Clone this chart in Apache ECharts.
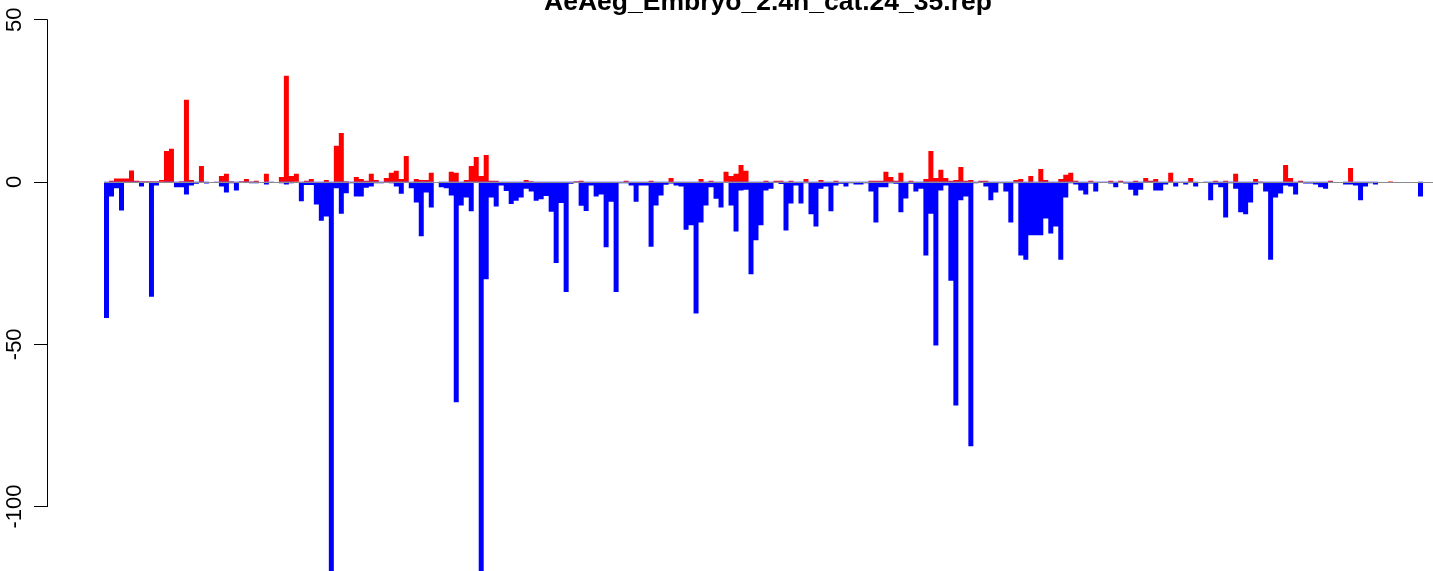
<!DOCTYPE html>
<html><head><meta charset="utf-8">
<script src="https://cdn.jsdelivr.net/npm/echarts@6/dist/echarts.min.js"></script>
<style>html,body{margin:0;padding:0;background:#fff}#c{width:1433px;height:571px}</style>
</head><body><div id="c"></div>
<script>
const chartTitle = 'AeAeg_Embryo_2.4h_cat.24_35.rep';
const yTicks = [-100, -50, 0, 50];

// red (positive) bar heights, one per position
const positive = [
0,0.3,1,1,1,3.5,0.3,0.2,0.2,0.2, 0.2,0.6,9.5,10.2,0,0.2,25.3,0.6,0,4.9,
0,0,0,1.8,2.5,0.2,0,0.2,0.9,0.1, 0.3,0,2.5,0,0,1.5,32.7,1.8,2.5,0,
0.3,0.9,0,0,0.6,0,11.1,15.1,0.2,0, 1.5,0.9,0.3,2.5,0.6,0,1.2,2.8,3.4,0.9,
8,0,0.9,0.6,0.6,2.8,0,0,0,3.1, 2.8,0,0.6,4.9,7.7,1.8,8.3,0.3,0.3,0,
0,0,0,0,0.6,0.2,0,0,0,0, 0,0,0,0,0.2,0.3,0,0,0,0,
0,0,0,0,0.3,0,0,0,0,0.3, 0,0,0,1.2,0,0,0,0,0,0.9,
0,0.3,0,0,3.1,1.8,2.5,5.2,3.4,0, 0,0,0.3,0,0.3,0.3,0,0.3,0,0,
0.9,0,0,0.6,0,0,0.3,0,0,0, 0,0,0,0.3,0.3,0.3,3.1,1.5,0.3,2.8,
0,0.3,0,0,0.9,9.5,1.2,3.7,1.2,0.3, 0.6,4.6,0.3,0.6,0,0.3,0.3,0,0,0,
0,0,0.6,0.9,0,1.8,0,4,0.6,0, 0,0.9,2.2,2.8,0.3,0,0,0.3,0,0,
0,0.3,0,0.3,0,0,0.3,0,1.2,0.3, 0.9,0,0,2.8,0,0,0,1.2,0,0,
0,0,0.3,0,0.3,0,2.5,0,0,0, 0.9,0.1,0,0,0,0,5.2,1.2,0,0.3,
0,0,0,0,0,0.3,0,0,0,4.3, 0,0,0,0,0,0,0,0.2,0,0,
0,0,0,0,0,0
];

// blue (negative) bar heights, one per position
const negative = [
-42,-4.5,-2,-8.8,-0.3,-0.2,-0.3,-1.4,-0.1,-35.4, -1.1,0,-0.3,-0.3,-1.7,-1.7,-3.9,-1.1,-0.6,-0.3,
-0.5,0,-0.3,-1.4,-3.3,-0.4,-2.7,-0.2,-0.3,-0.4, -0.4,0,-0.8,-0.2,0,-0.4,-0.8,-0.4,0,-6,
-1,-1,-7,-12,-10.7,-125,-2,-9.8,-3.5,-0.4, -4.5,-4.5,-1.8,-1.4,-0.4,-0.4,-0.2,-0.4,-1.4,-3.7,
-0.3,-2,-6.4,-16.8,-3.3,-7.9,0,-1.7,-2,-4.2, -68,-7.3,-4.8,-9.1,-0.3,-125,-30,-4.8,-7.6,-1.1,
-2.8,-6.8,-5.8,-4.8,-2.1,-3,-5.8,-5.4,-4.4,-9.2, -25,-6.5,-34,-0.6,-0.3,-7.4,-9,-1.1,-4.5,-3.9,
-20.2,-6.1,-34,-0.4,-0.4,-1.1,-6.1,-1.1,-1.1,-20, -7.3,-4.2,-0.9,-0.5,-1.1,-1.4,-14.8,-13.4,-40.6,-12.5,
-7.3,-1.7,-5.2,-7.9,0,-7.3,-15.3,-2.7,-2.4,-28.5, -18,-13.4,-2.7,-2.1,-0.2,-0.7,-15,-6.7,-1.1,-6.7,
-0.4,-10,-13.8,-2.1,-1.4,-9.1,-1.1,-0.6,-1.4,-0.4, -0.8,-0.8,-0.4,-3,-12.5,-1.7,-1.7,-0.4,-0.6,-9.4,
-5.1,-0.6,-3,-2.1,-22.7,-9.8,-50.5,-2.7,-1.1,-30.5, -69,-5.7,-4.5,-81.5,-0.4,-0.2,-1.4,-5.7,-3.3,-0.4,
-3,-12.5,-0.4,-22.7,-24,-16.5,-16.5,-16.5,-11.3,-15.9, -13.8,-24,-4.8,-0.4,-0.8,-2.7,-3.9,-0.5,-3,-0.2,
-0.2,-0.5,-1.7,-0.2,-0.5,-2.4,-4.2,-2.4,-0.2,-0.2, -2.7,-2.7,-0.8,-0.2,-1.4,-0.2,-0.8,-0.2,-1.4,0,
-0.2,-5.7,-0.8,-1.7,-11,-0.4,-2.1,-9.4,-10,-6.4, -0.8,-0.4,-3,-24,-4.8,-3.6,-1.1,-1.4,-3.9,-0.2,
-0.5,-0.5,-0.8,-1.7,-2.1,-0.2,0,0,-0.8,-0.8, -1.1,-5.7,-1.4,-0.4,-0.8,0,0,0,0,0,
0,0,0,-4.5,0,0
];

const categories = positive.map((_, i) => String(i + 1));

const FONT = '"Liberation Sans", Arial, Helvetica, sans-serif';
const chart = echarts.init(document.getElementById('c'), null, {renderer: 'canvas'});
chart.setOption({
  animation: false,
  backgroundColor: '#ffffff',
  graphic: [{
    type: 'text', x: 768, y: 3, z: 10,
    style: {text: chartTitle, font: 'bold 26.5px ' + FONT, fill: '#000', textAlign: 'center', textVerticalAlign: 'middle'}
  }],
  grid: [
    {left: 104, top: 19.7, width: 1330, height: 551.8},
    {left: 47, top: 19.7, width: 1, height: 486.9}
  ],
  xAxis: [
    {type: 'category', gridIndex: 0, data: categories, show: false, boundaryGap: true},
    {type: 'value', gridIndex: 1, show: false, min: 0, max: 1}
  ],
  yAxis: [
    {type: 'value', gridIndex: 0, min: -120, max: 50, show: false},
    {type: 'value', gridIndex: 1, min: yTicks[0], max: yTicks[yTicks.length - 1], interval: 50,
     position: 'left',
     axisLine: {show: true, lineStyle: {color: '#000', width: 1}},
     axisTick: {show: true, length: 13, lineStyle: {color: '#000', width: 1}},
     splitLine: {show: false},
     axisLabel: {show: true, rotate: 90, margin: 21, color: '#000', fontSize: 22, fontFamily: FONT}
    }
  ],
  series: [
    {type: 'line', xAxisIndex: 0, yAxisIndex: 0, data: [], z: 1, silent: true,
     markLine: {silent: true, symbol: ['none', 'none'], label: {show: false},
       lineStyle: {color: '#8c8c8c', type: 'solid', width: 1}, data: [{yAxis: 0}]}},
    {type: 'bar', name: 'up', xAxisIndex: 0, yAxisIndex: 0, data: positive, z: 2,
     large: true, largeThreshold: 50,
     barCategoryGap: '0%', barGap: '-100%',
     itemStyle: {color: '#ff0000'}, clip: true},
    {type: 'bar', name: 'down', xAxisIndex: 0, yAxisIndex: 0, data: negative, z: 2,
     large: true, largeThreshold: 50,
     barCategoryGap: '0%', barGap: '-100%',
     itemStyle: {color: '#0000ff'}, clip: true}
  ]
});
</script>
</body></html>
